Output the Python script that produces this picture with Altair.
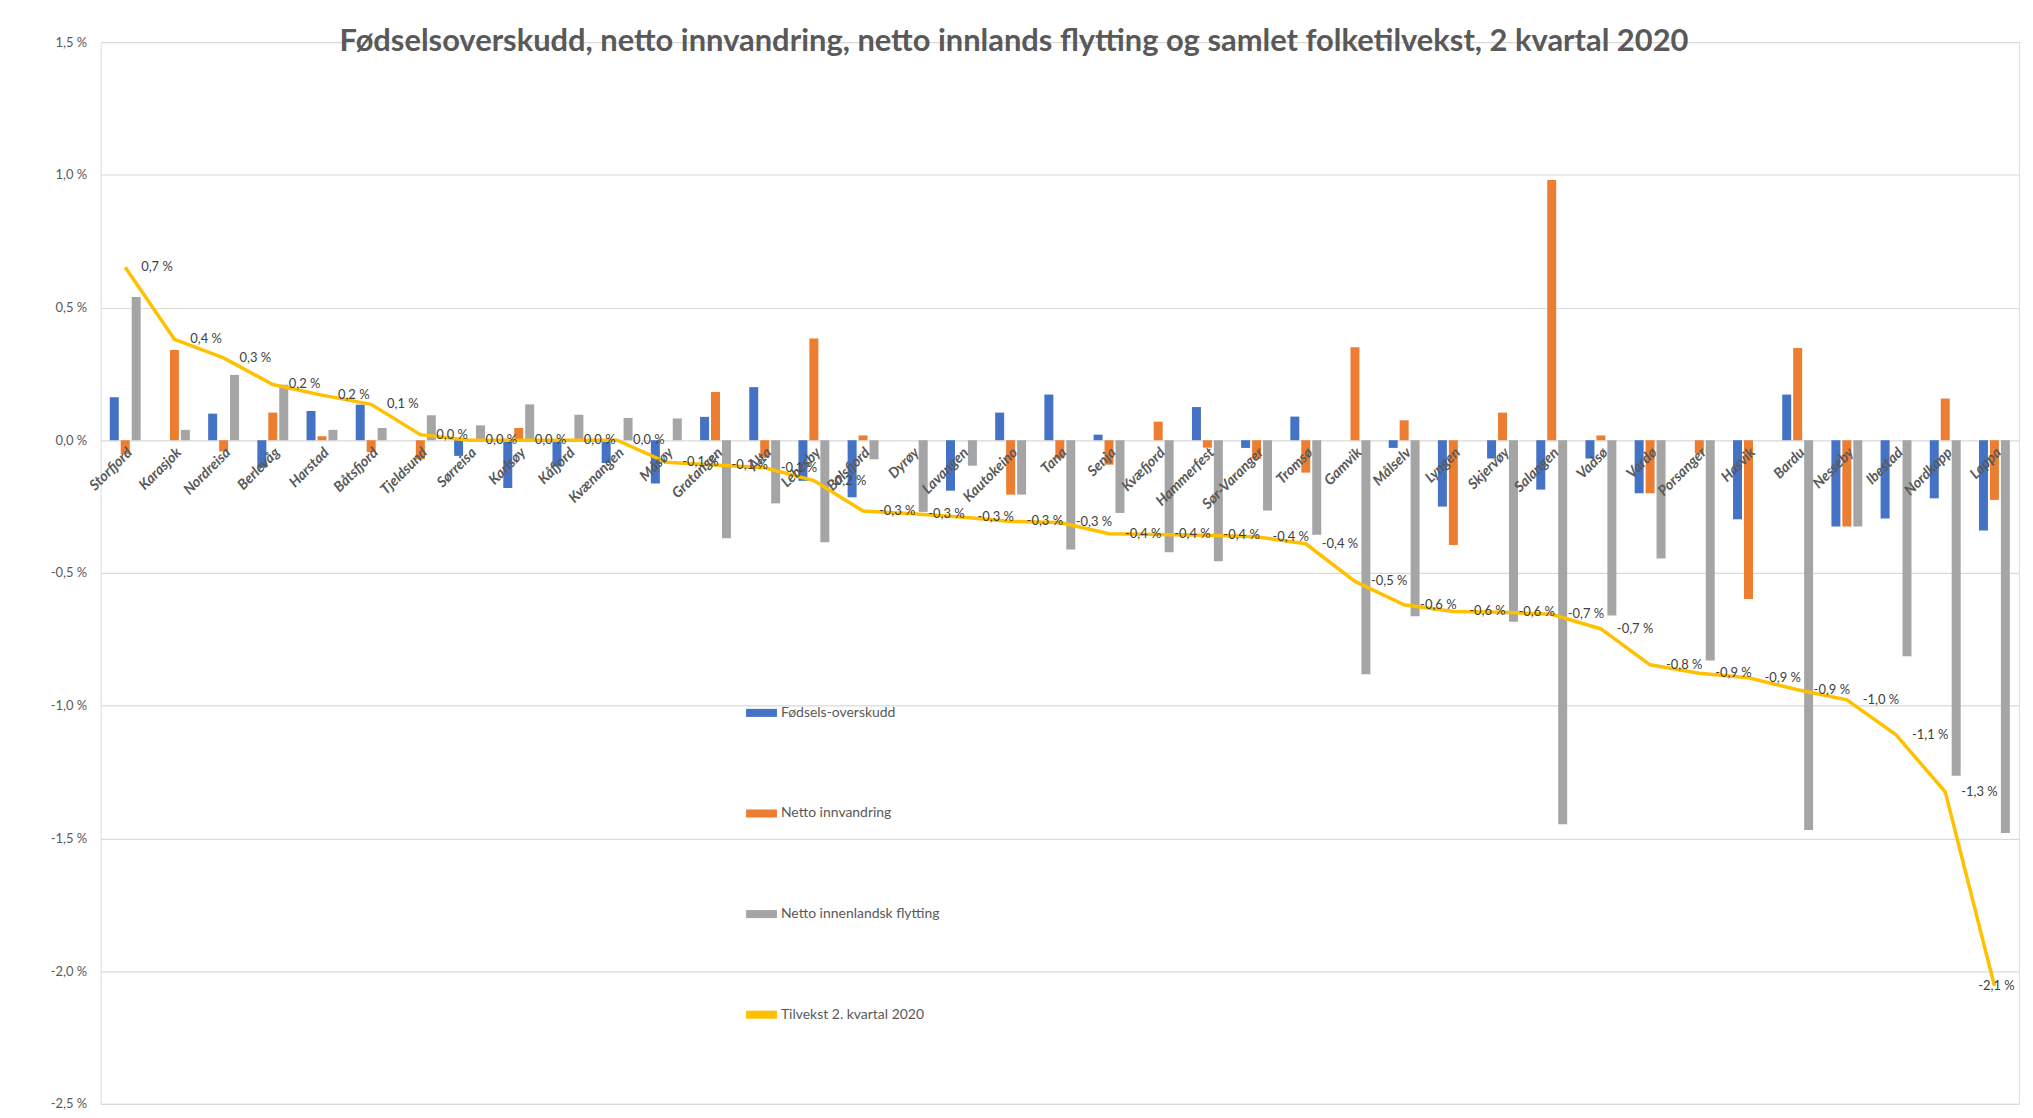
import altair as alt
import pandas as pd

kommuner = ["Storfjord", "Karasjok", "Nordreisa", "Berlevåg", "Harstad", "Båtsfjord", "Tjeldsund",
            "Sørreisa", "Karlsøy", "Kåfjord", "Kvænangen", "Måsøy", "Gratangen", "Alta", "Lebesby",
            "Balsfjord", "Dyrøy", "Lavangen", "Kautokeino", "Tana", "Senja", "Kvæfjord", "Hammerfest",
            "Sør-Varanger", "Tromsø", "Gamvik", "Målselv", "Lyngen", "Skjervøy", "Salangen", "Vadsø",
            "Vardø", "Porsanger", "Hasvik", "Bardu", "Nesseby", "Ibestad", "Nordkapp", "Loppa"]

fodselsoverskudd = [0.162, 0.0, 0.100, -0.104, 0.110, 0.134, 0.0, -0.059, -0.180, -0.099, -0.086, -0.163,
                    0.088, 0.200, -0.153, -0.215, 0.0, -0.190, 0.104, 0.172, 0.021, 0.0, 0.125, -0.029,
                    0.089, 0.0, -0.029, -0.250, -0.069, -0.186, -0.069, -0.200, 0.0, -0.298, 0.172,
                    -0.325, -0.295, -0.219, -0.340]

netto_innvandring = [-0.052, 0.340, -0.042, 0.104, 0.015, -0.045, -0.072, 0.0, 0.046, 0.0, 0.0, 0.0,
                     0.182, -0.066, 0.383, 0.018, 0.0, 0.0, -0.205, -0.069, -0.092, 0.070, -0.028, -0.070,
                     -0.122, 0.350, 0.075, -0.395, 0.104, 0.980, 0.018, -0.200, -0.050, -0.598, 0.347,
                     -0.325, 0.0, 0.157, -0.225]

netto_innenlandsk = [0.540, 0.039, 0.246, 0.209, 0.039, 0.046, 0.094, 0.056, 0.135, 0.096, 0.084, 0.082,
                     -0.369, -0.238, -0.384, -0.072, -0.270, -0.096, -0.205, -0.412, -0.274, -0.422, -0.456,
                     -0.265, -0.356, -0.882, -0.663, 0.0, -0.684, -1.447, -0.660, -0.446, -0.830, 0.0,
                     -1.468, -0.325, -0.814, -1.264, -1.480]

tilvekst = [0.652, 0.380, 0.310, 0.210, 0.170, 0.135, 0.021, 0.0, 0.0, 0.0, 0.0, -0.083, -0.093, -0.104,
            -0.152, -0.267, -0.277, -0.289, -0.306, -0.310, -0.352, -0.355, -0.358, -0.364, -0.390,
            -0.532, -0.620, -0.645, -0.648, -0.656, -0.711, -0.846, -0.878, -0.895, -0.940, -0.978,
            -1.110, -1.325, -2.055]

y_ticks = [-2.5, -2.0, -1.5, -1.0, -0.5, 0.0, 0.5, 1.0, 1.5]

S1 = "Fødsels-overskudd"
S2 = "Netto innvandring"
S3 = "Netto innenlandsk flytting"
S4 = "Tilvekst 2. kvartal 2020"
serier = [S1, S2, S3]
farger = ["#4472C4", "#ED7D31", "#A5A5A5"]
linjefarge = "#FFC000"

TITLE = "Fødselsoverskudd, netto innvandring, netto innlands flytting og samlet folketilvekst, 2 kvartal 2020"

n = len(kommuner)
bars_df = pd.DataFrame({
    "kommune": kommuner * 3,
    "serie": [S1] * n + [S2] * n + [S3] * n,
    "verdi": fodselsoverskudd + netto_innvandring + netto_innenlandsk,
})


def fmt(v):
    s = f"{v:.1f}"
    if s == "-0.0":
        s = "0.0"
    return s.replace(".", ",") + " %"


line_df = pd.DataFrame({
    "kommune": kommuner,
    "verdi": tilvekst,
    "etikett": [fmt(v) for v in tilvekst],
})

W, H = 1926, 1066
FONT = "Lato"
GREY = "#595959"
LAST = kommuner[-1]

x_enc = alt.X(
    "kommune:N", sort=kommuner,
    scale=alt.Scale(paddingInner=0.332, paddingOuter=0.166),
    axis=alt.Axis(title=None, labelAngle=-45, labelAlign="right", labelBaseline="top",
                  labelPadding=5, offset=-(H - H * 1.5 / 4.0), domain=False, ticks=False, grid=False,
                  labelFont=FONT, labelFontStyle="italic", labelFontWeight="bold", labelFontSize=14.5,
                  labelColor=GREY, labelOverlap=False, labelLimit=300, zindex=1),
)

y_scale = alt.Scale(domain=[-2.5, 1.5], nice=False, zero=False)
y_axis = alt.Axis(
    title=None, values=y_ticks, grid=True, gridColor="#D9D9D9", gridWidth=1.2,
    domain=False, ticks=False, labelFont=FONT, labelFontSize=13, labelColor=GREY, labelPadding=14,
    labelExpr="(datum.value < 0 ? '-' : '') + replace(format(abs(datum.value), '.1f'), '.', ',') + ' %'",
)
y_enc = alt.Y("verdi:Q", scale=y_scale, axis=y_axis)

bars = alt.Chart(bars_df).mark_bar().encode(
    x=x_enc,
    xOffset=alt.XOffset("serie:N", sort=serier,
                        scale=alt.Scale(paddingInner=0.18, paddingOuter=0.09)),
    y=y_enc,
    color=alt.Color("serie:N", scale=alt.Scale(domain=serier + [S4], range=farger + [linjefarge]),
                    legend=alt.Legend(orient="none", legendX=648, legendY=658, direction="vertical",
                                      title=None, symbolType="M-1,-0.26H1V0.26H-1Z", symbolSize=961,
                                      symbolStrokeWidth=0, labelFont=FONT, labelFontSize=14,
                                      labelColor=GREY, labelOffset=4, rowPadding=78)),
)

line = alt.Chart(line_df).mark_line(strokeWidth=3.5, color=linjefarge).encode(
    x=x_enc,
    y=y_enc,
)

labels = alt.Chart(line_df).transform_filter(alt.datum.kommune != LAST).mark_text(
    align="left", baseline="middle", dx=16, fontSize=13, font=FONT, color="#404040"
).encode(x=x_enc, y=y_enc, text="etikett:N")

last_label = alt.Chart(line_df).transform_filter(alt.datum.kommune == LAST).mark_text(
    align="center", baseline="middle", dx=2, fontSize=13, font=FONT, color="#404040"
).encode(x=x_enc, y=y_enc, text="etikett:N")

chart = alt.layer(bars, line, labels, last_label).properties(
    width=W, height=H,
    title=alt.TitleParams(TITLE, font=FONT, fontSize=31, fontWeight="bold", color=GREY,
                          anchor="middle", dx=-46, baseline="middle", offset=-37),
    autosize=alt.AutoSizeParams(type="none"),
    padding={"left": 93, "top": 32, "right": 6, "bottom": 4},
).configure_view(stroke=None).configure(background="white")

chart.save("out.html", embed_options={"renderer": "svg", "actions": False})
